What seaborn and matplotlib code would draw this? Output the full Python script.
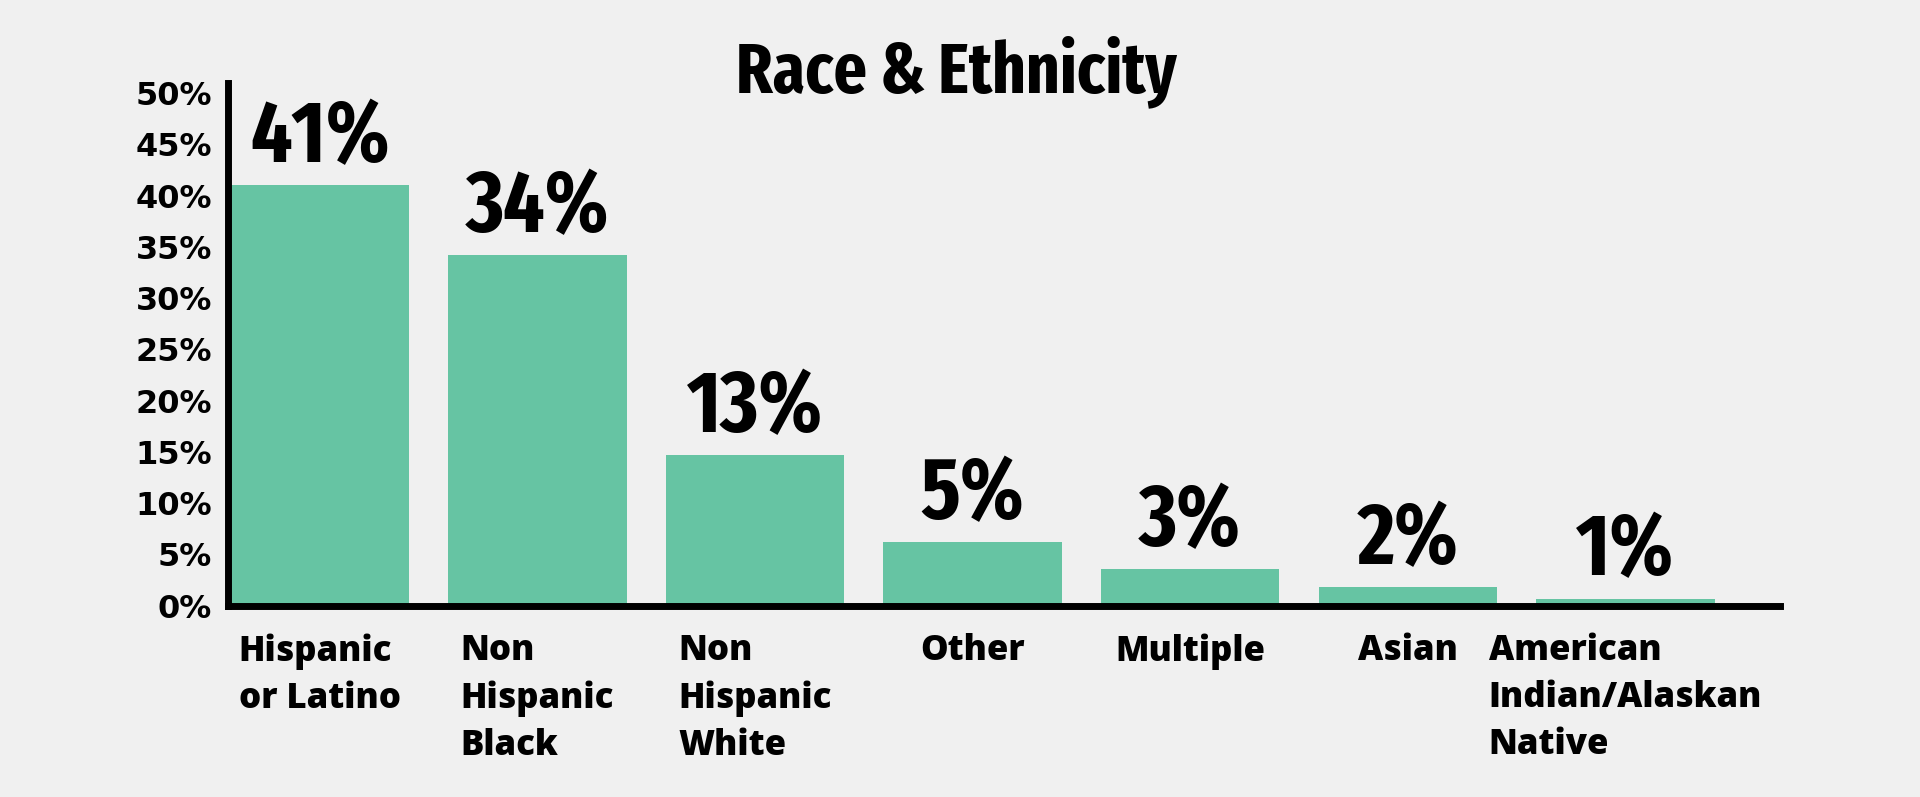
import matplotlib
matplotlib.use("Agg")
import os
import matplotlib.pyplot as plt
from matplotlib import font_manager as fm
import seaborn as sns
import pandas as pd

# chart data
categories = ["Hispanic\nor Latino", "Non\nHispanic\nBlack", "Non\nHispanic\nWhite",
              "Other", "Multiple", "Asian", "American\nIndian/Alaskan\nNative"]
heights = [41.0, 34.2, 14.7, 6.2, 3.6, 1.8, 0.7]
value_labels = ["41%", "34%", "13%", "5%", "3%", "2%", "1%"]
yticks = [0, 5, 10, 15, 20, 25, 30, 35, 40, 45, 50]
ytick_labels = [f"{t}%" for t in yticks]

df = pd.DataFrame({"group": categories, "share": heights})

sns.set_style("white")
plt.rcParams["font.family"] = ["Open Sans", "DejaVu Sans"]
plt.rcParams["text.color"] = "black"
plt.rcParams["xtick.color"] = "black"
plt.rcParams["ytick.color"] = "black"
bg = "#f0f0f0"


def font_file(*wanted):
    # pick the first installed file out of the wanted names
    files = {os.path.basename(f.fname): f.fname for f in fm.fontManager.ttflist}
    for w in wanted:
        if w in files:
            return fm.FontProperties(fname=files[w])
    return fm.FontProperties(family="DejaVu Sans", weight="bold")


narrow = font_file("FiraSansExtraCondensed-Bold.ttf", "FiraSansCondensed-Bold.ttf",
                   "DejaVuSansCondensed-Bold.ttf")
tickfont = fm.FontProperties(family="DejaVu Sans", weight="bold", size=23)

fig = plt.figure(figsize=(19.2, 7.97), dpi=100, facecolor=bg)
ax = fig.add_axes([0.119, 0.240, 0.808, 0.656])
ax.set_facecolor(bg)

sns.barplot(data=df, x="group", y="share", color="#66c4a3", saturation=1,
            width=0.82, linewidth=0, ax=ax)

texts = ax.bar_label(ax.containers[0], labels=value_labels, padding=3)
for t in texts:
    t.set_fontproperties(narrow)
    t.set_fontsize(63)

ax.set_ylim(0, 51)
ax.set_xlim(-0.42, 6.71)
ax.set_yticks(yticks)
ax.set_yticklabels(ytick_labels, fontproperties=tickfont)
ax.tick_params(axis="y", length=0, pad=12)
ax.tick_params(axis="x", length=0, pad=20)
for lab in ax.get_xticklabels():
    lab.set_fontsize(25)
    lab.set_fontweight(800)
    lab.set_multialignment("left")
    lab.set_linespacing(1.4)
    lab.set_verticalalignment("top")

ax.set_xlabel("")
ax.set_ylabel("")
sns.despine(ax=ax)
for side in ["left", "bottom"]:
    ax.spines[side].set_linewidth(5)
    ax.spines[side].set_color("black")

title = fig.text(0.498, 0.8846, "Race & Ethnicity", ha="center", va="baseline")
title.set_fontproperties(narrow)
title.set_fontsize(51)

fig.savefig("out.png", dpi=100, facecolor=bg)
